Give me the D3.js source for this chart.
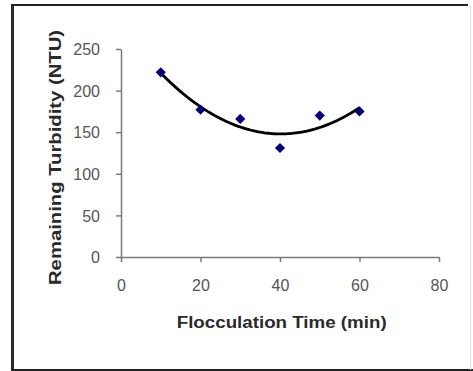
<!DOCTYPE html>
<html><head><meta charset="utf-8">
<script src="https://cdn.jsdelivr.net/npm/d3@7"></script>
<style>html,body{margin:0;padding:0;background:#fff;}svg{display:block;}</style>
</head><body>
<script>
const times = [10, 20, 30, 40, 50, 60];
const turbidity = [222, 177, 166, 131, 170, 175];
const xTicks = [0, 20, 40, 60, 80];
const yTicks = [0, 50, 100, 150, 200, 250];
const xTitle = "Flocculation Time (min)";
const yTitle = "Remaining Turbidity (NTU)";

const W = 473, H = 371;
const svg = d3.select("body").append("svg").attr("width", W).attr("height", H);
svg.append("rect").attr("width", W).attr("height", H).attr("fill", "#fff");

// frame
svg.append("line").attr("x1", 12.5).attr("x2", 12.5).attr("y1", 4).attr("y2", 371).attr("stroke", "#2a2a2a").attr("stroke-width", 3);
svg.append("line").attr("x1", 11).attr("x2", 468).attr("y1", 5).attr("y2", 5).attr("stroke", "#222").attr("stroke-width", 2);
svg.append("line").attr("x1", 11).attr("x2", 473).attr("y1", 370).attr("y2", 370).attr("stroke", "#222").attr("stroke-width", 2);
svg.append("line").attr("x1", 470.5).attr("x2", 470.5).attr("y1", 5).attr("y2", 370).attr("stroke", "#ddd").attr("stroke-width", 1);

const x = d3.scaleLinear().domain([0, 80]).range([121, 439]);
const y = d3.scaleLinear().domain([0, 250]).range([257, 49]);

const axisColor = "#7a7a7a";
const gx = svg.append("g").attr("transform", `translate(0,${y(0)})`)
  .call(d3.axisBottom(x).tickValues(xTicks).tickSize(5).tickSizeOuter(0).tickPadding(0));
const gy = svg.append("g").attr("transform", `translate(${x(0)},0)`)
  .call(d3.axisLeft(y).tickValues(yTicks).tickSize(5).tickSizeOuter(0).tickPadding(0));
[gx, gy].forEach(g => {
  g.select(".domain").attr("stroke", axisColor).attr("stroke-width", 1.5);
  g.selectAll(".tick line").attr("stroke", axisColor).attr("stroke-width", 1.5);
  g.selectAll("text").attr("fill", "#555").style("font-family", "Liberation Sans, Arial, sans-serif").style("font-size", "16px");
});
gx.selectAll(".tick text").attr("y", 34).attr("dy", "0");
gy.selectAll(".tick text").attr("x", -21).attr("dy", "0.36em");

// titles
svg.append("text").attr("x", 281.7).attr("y", 328).attr("text-anchor", "middle")
  .attr("textLength", 210).attr("lengthAdjust", "spacingAndGlyphs")
  .style("font-family", "Liberation Sans, Arial, sans-serif").style("font-weight", "bold").style("font-size", "16px")
  .attr("fill", "#2a2a2a").text(xTitle);
svg.append("text").attr("transform", "translate(61,157.5) rotate(-90)").attr("text-anchor", "middle")
  .attr("textLength", 255).attr("lengthAdjust", "spacingAndGlyphs")
  .style("font-family", "Liberation Sans, Arial, sans-serif").style("font-weight", "bold").style("font-size", "16px")
  .attr("fill", "#2a2a2a").text(yTitle);

// quadratic trendline (least-squares fit of the data)
function quadFit(xs, ys) {
  const n = xs.length;
  let s = [0,0,0,0,0], t = [0,0,0];
  for (let i = 0; i < n; i++) {
    let p = 1;
    for (let k = 0; k < 5; k++) { s[k] += p; if (k < 3) t[k] += p * ys[i]; p *= xs[i]; }
  }
  const A = [[s[0], s[1], s[2], t[0]], [s[1], s[2], s[3], t[1]], [s[2], s[3], s[4], t[2]]];
  for (let i = 0; i < 3; i++) {
    for (let j = i + 1; j < 3; j++) {
      const f = A[j][i] / A[i][i];
      for (let k = i; k < 4; k++) A[j][k] -= f * A[i][k];
    }
  }
  const c = [0,0,0];
  for (let i = 2; i >= 0; i--) {
    let v = A[i][3];
    for (let k = i + 1; k < 3; k++) v -= A[i][k] * c[k];
    c[i] = v / A[i][i];
  }
  return c;
}
const coef = quadFit(times, turbidity);
const fitX = d3.range(times[0], times[times.length - 1] + 0.01, 0.5);
const line = d3.line().x(d => x(d)).y(d => y(coef[0] + coef[1] * d + coef[2] * d * d)).curve(d3.curveLinear);
svg.append("path").datum(fitX).attr("d", line).attr("fill", "none").attr("stroke", "#000").attr("stroke-width", 2.8);

// markers
const sym = d3.symbol().type(d3.symbolSquare).size(52);
svg.selectAll(".pt").data(times).join("path")
  .attr("transform", (d, i) => `translate(${x(d)},${y(turbidity[i])}) rotate(45)`)
  .attr("d", sym).attr("fill", "#000080");
</script>
</body></html>
